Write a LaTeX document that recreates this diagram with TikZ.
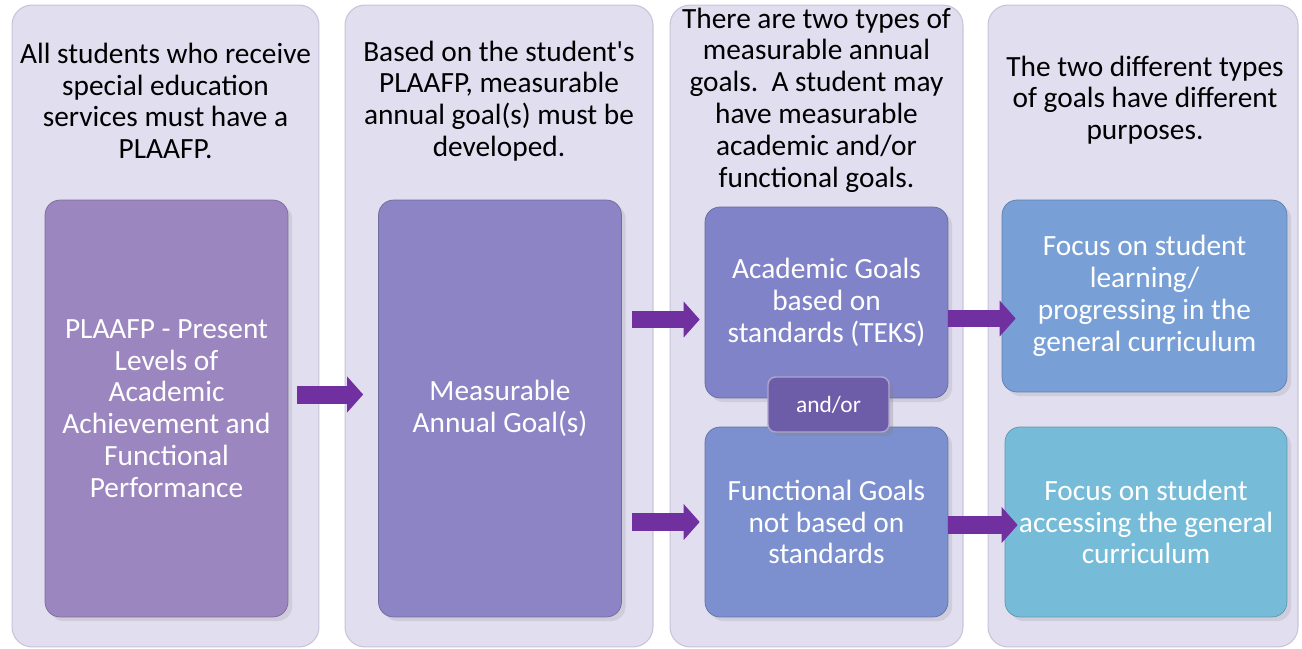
\documentclass[tikz,border=0pt]{standalone}
\usepackage{fontspec}
\setmainfont{Carlito}
\usetikzlibrary{arrows.meta,shadows}

\definecolor{colfill}{HTML}{E1DEF0}
\definecolor{coldraw}{HTML}{C8C4D8}
\definecolor{plaafpc}{HTML}{9C86C0}
\definecolor{annualc}{HTML}{8C84C4}
\definecolor{academicc}{HTML}{8183C8}
\definecolor{functionalc}{HTML}{7C90D0}
\definecolor{learningc}{HTML}{78A0D6}
\definecolor{accessc}{HTML}{76BCD8}
\definecolor{andorc}{HTML}{6D5CA8}
\definecolor{arrowc}{HTML}{7030A0}

\begin{document}
\begin{tikzpicture}[x=0.02cm, y=-0.02cm,
    column/.style={rounded corners=0.4cm, fill=colfill, draw=coldraw, line width=0.6pt, minimum height=12.84cm},
    header/.style={align=center, font=\fontsize{16.7}{18.1}\selectfont},
    goal/.style={rounded corners=0.3cm, draw=#1!80!black, fill=#1, text=white, align=center,
        font=\fontsize{16.7}{18.1}\selectfont, minimum width=4.86cm, drop shadow={opacity=0.18}},
    fatarrow/.style={line width=0.36cm, color=arrowc, -{Triangle[width=0.7cm, length=0.32cm]}}]
    \useasboundingbox (0,0) rectangle (1302,649);

    % columns
    \node[column, minimum width=6.14cm] (col1) at (165.5,326) {};
    \node[column, minimum width=6.16cm] (col2) at (499,326) {};
    \node[column, minimum width=5.86cm] (col3) at (816.5,326) {};
    \node[column, minimum width=6.2cm] (col4) at (1143,326) {};

    % headers
    \node[header] (head1) at (165.5,101) {All students who receive\\special education\\services must have a\\PLAAFP.};
    \node[header] (head2) at (499,101) {Based on the student\textquotesingle s\\PLAAFP, measurable\\annual goal(s) must be\\developed.};
    \node[header] (head3) at (816.5,100) {There are two types of\\measurable annual\\goals.\ \ A student may\\have measurable\\academic and/or\\functional goals.};
    \node[header] (head4) at (1145,100) {The two different types\\of goals have different\\purposes.};

    % boxes
    \node[goal=plaafpc, minimum height=8.34cm] (plaafp) at (166.5,408.5) {PLAAFP - Present\\Levels of\\Academic\\Achievement and\\Functional\\Performance};
    \node[goal=annualc, minimum height=8.34cm] (annual) at (500,408.5) {Measurable\\Annual Goal(s)};
    \node[goal=academicc, minimum height=3.82cm] (academic) at (826.5,302.5) {Academic Goals\\based on\\standards (TEKS)};
    \node[goal=functionalc, minimum height=3.8cm] (functional) at (826.5,522) {Functional Goals\\not based on\\standards};
    \node[goal=learningc, minimum width=5.7cm, minimum height=3.84cm] (learning) at (1144.5,296) {Focus on student\\learning/\\progressing in the\\general curriculum};
    \node[goal=accessc, minimum width=5.64cm, minimum height=3.8cm] (access) at (1146,522) {Focus on student\\accessing the general\\curriculum};
    \node[rounded corners=0.15cm, fill=andorc, draw=andorc!55!white, line width=0.8pt, text=white,
        font=\fontsize{13.3}{15}\selectfont, minimum width=2.42cm, minimum height=1.1cm,
        drop shadow={opacity=0.3}] (andor) at (828.5,404.5) {and/or};

    % arrows
    \coordinate (toacad) at ([yshift=-0.34cm]academic.west);
    \coordinate (tolearn) at ([yshift=-0.32cm]academic.east);
    \draw[fatarrow, shorten <=0.18cm, shorten >=0.3cm] ([yshift=0.28cm]plaafp.east) -- ([yshift=0.28cm]annual.west);
    \draw[fatarrow, shorten <=0.2cm, shorten >=0.1cm] (annual.east |- toacad) -- (toacad);
    \draw[fatarrow, shorten <=0.2cm, shorten >=0.1cm] (annual.east |- functional.west) -- (functional.west);
    \draw[fatarrow, shorten >=-0.28cm] (tolearn) -- (tolearn -| learning.west);
    \draw[fatarrow, shorten >=-0.26cm] ([yshift=-0.06cm]functional.east) -- ([yshift=-0.06cm]access.west);
\end{tikzpicture}
\end{document}
